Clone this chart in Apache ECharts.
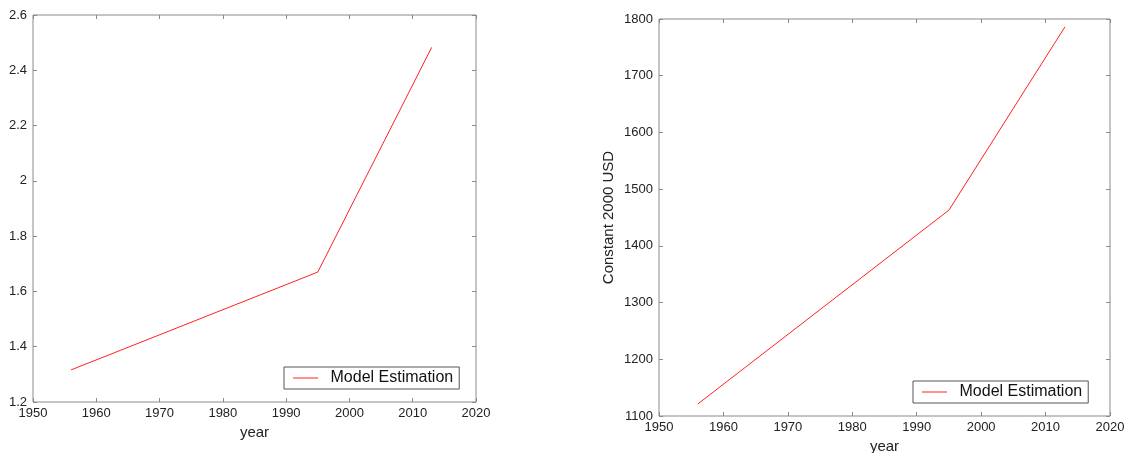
<!DOCTYPE html>
<html><head><meta charset="utf-8">
<script src="https://cdn.jsdelivr.net/npm/echarts@6/dist/echarts.min.js"></script>
<style>html,body{margin:0;padding:0;background:#fff}#c{width:1130px;height:453px}</style>
</head><body><div id="c"></div>
<script>
const years = [1956, 1995, 2013];
const leftValues = [1.316, 1.67, 2.483];
const rightValues = [1121, 1463, 1786];
const seriesName = 'Model Estimation';
const xTitle = 'year';
const rightYTitle = 'Constant 2000 USD';

const font = 'Liberation Sans, Arial, sans-serif';
const axisGray = '#8a8a8a';
const chart = echarts.init(document.getElementById('c'));
const fmt = v => String(Math.round(v * 1000) / 1000);

function xAx(gi, pos, labels) {
  return {
    type: 'value', gridIndex: gi, position: pos, min: 1950, max: 2020, interval: 10,
    axisLine: {show: false}, splitLine: {show: false},
    axisTick: {show: true, inside: true, length: 4, lineStyle: {color: axisGray}},
    axisLabel: {show: labels, color: '#222', fontFamily: font, fontSize: 13, margin: 5, formatter: fmt},
    name: labels ? xTitle : '', nameLocation: 'middle', nameGap: 22,
    nameTextStyle: {color: '#222', fontFamily: font, fontSize: 15}
  };
}
function yAx(gi, pos, labels, min, max, interval, name) {
  return {
    type: 'value', gridIndex: gi, position: pos, min: min, max: max, interval: interval,
    axisLine: {show: false}, splitLine: {show: false},
    axisTick: {show: true, inside: true, length: 4, lineStyle: {color: axisGray}},
    axisLabel: {show: labels, color: '#222', fontFamily: font, fontSize: 13, margin: 6, formatter: fmt},
    name: name || '', nameLocation: 'middle', nameGap: 43, nameRotate: 90,
    nameTextStyle: {color: '#222', fontFamily: font, fontSize: 15}
  };
}
function leg(name, left, top) {
  return {data: [{name: name, icon: 'path://M0,0L1,0L1,0.04L0,0.04Z'}], left: left, top: top,
    itemWidth: 40, itemHeight: 1, itemGap: 0,
    padding: [3, 6, 3, 9], borderColor: '#555', borderWidth: 1,
    textStyle: {color: '#111', fontFamily: font, fontSize: 16}, selectedMode: false,
    formatter: n => n.trim()};
}

chart.setOption({
  animation: false,
  grid: [
    {left: 33, top: 15, width: 443, height: 387, show: true, borderColor: axisGray, borderWidth: 1, backgroundColor: 'transparent', outerBoundsMode: 'none', containLabel: false},
    {left: 659, top: 19, width: 451, height: 397, show: true, borderColor: axisGray, borderWidth: 1, backgroundColor: 'transparent', outerBoundsMode: 'none', containLabel: false}
  ],
  xAxis: [xAx(0, 'bottom', true), xAx(0, 'top', false), xAx(1, 'bottom', true), xAx(1, 'top', false)],
  yAxis: [yAx(0, 'left', true, 1.2, 2.6, 0.2), yAx(0, 'right', false, 1.2, 2.6, 0.2),
          yAx(1, 'left', true, 1100, 1800, 100, rightYTitle), yAx(1, 'right', false, 1100, 1800, 100)],
  legend: [leg(seriesName, 284, 367), leg(seriesName + ' ', 913, 381)],
  series: [
    {name: seriesName, type: 'line', xAxisIndex: 0, yAxisIndex: 0, data: years.map((y, i) => [y, leftValues[i]]),
     symbol: 'none', lineStyle: {color: '#ff2020', width: 1}, itemStyle: {color: '#ff2020'}},
    {name: seriesName + ' ', type: 'line', xAxisIndex: 2, yAxisIndex: 2, data: years.map((y, i) => [y, rightValues[i]]),
     symbol: 'none', lineStyle: {color: '#ff2020', width: 1}, itemStyle: {color: '#ff2020'}}
  ]
});
</script></body></html>
